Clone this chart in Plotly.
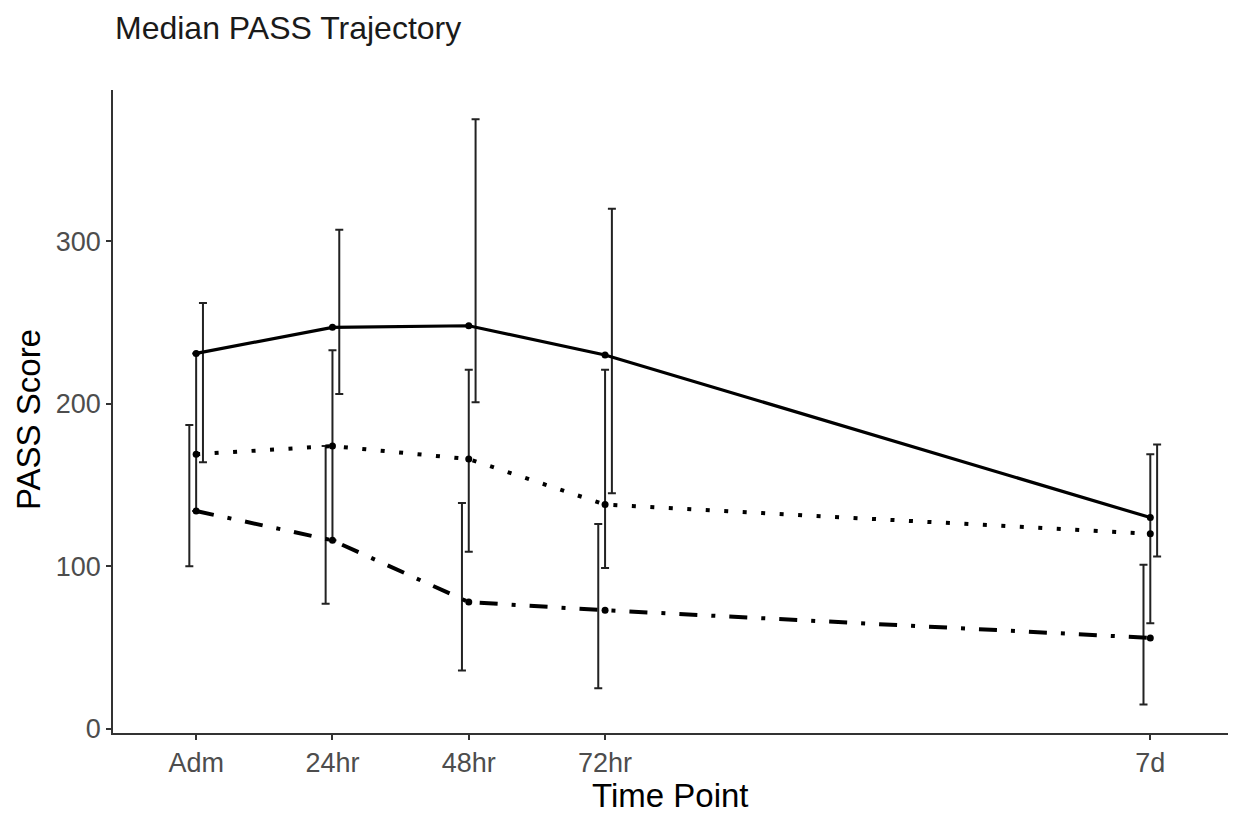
import plotly.graph_objects as go

# Data
time_labels = ["Adm", "24hr", "48hr", "72hr", "7d"]
time_days = [0, 1, 2, 3, 7]

solid_med = [231, 247, 248, 230, 130]
solid_lo = [164, 206, 201, 145, 106]
solid_hi = [262, 307, 375, 320, 175]

dotted_med = [169, 174, 166, 138, 120]
dotted_lo = [134, 116, 109, 99, 65]
dotted_hi = [231, 233, 221, 221, 169]

dashdot_med = [134, 116, 78, 73, 56]
dashdot_lo = [100, 77, 36, 25, 15]
dashdot_hi = [187, 174, 139, 126, 101]

y_ticks = [0, 100, 200, 300]

series = [
    ("solid", solid_med, solid_lo, solid_hi, "solid", 3.2, 0.05),
    ("dotted", dotted_med, dotted_lo, dotted_hi, "4px,14.5px", 4.0, 0.0),
    ("dashdot", dashdot_med, dashdot_lo, dashdot_hi, "18px,14px,4px,14px", 4.0, -0.05),
]

fig = go.Figure()

# error bars (dodged)
for name, med, lo, hi, dash, lw, off in series:
    fig.add_trace(go.Scatter(
        x=[d + off for d in time_days], y=med, mode="markers",
        marker=dict(size=1, color="rgba(0,0,0,0)"),
        error_y=dict(type="data", symmetric=False,
                     array=[h - m for h, m in zip(hi, med)],
                     arrayminus=[m - l for m, l in zip(med, lo)],
                     color="#222222", thickness=2, width=4),
        showlegend=False, hoverinfo="skip"))

# lines + points
for name, med, lo, hi, dash, lw, off in series:
    fig.add_trace(go.Scatter(
        x=time_days, y=med, mode="lines+markers", name=name,
        line=dict(color="black", width=lw, dash=dash),
        marker=dict(color="black", size=7),
        showlegend=False))

# page body has an 8px margin, so the figure is shifted by 8px; compensate
W, H = 1229, 807
fig.update_layout(
    width=W, height=H,
    paper_bgcolor="white", plot_bgcolor="white",
    margin=dict(l=105, r=9, t=82, b=82),
    font=dict(family="Liberation Sans, Arial, sans-serif", color="black"),
    title=dict(text="Median PASS Trajectory", x=107 / W, xref="container",
               xanchor="left", y=1 - 20 / H, yref="container", yanchor="middle",
               font=dict(size=32, color="#1a1a1a")),
    xaxis=dict(range=[-0.61, 7.57], tickvals=time_days, ticktext=time_labels,
               showgrid=False, zeroline=False, showline=True, linecolor="#333333",
               linewidth=1.6, ticks="outside", ticklen=5, tickwidth=1.5,
               tickcolor="#333333", tickfont=dict(size=27, color="#4d4d4d")),
    yaxis=dict(range=[-2.5, 393], tickvals=y_ticks,
               showgrid=False, zeroline=False, showline=True, linecolor="#333333",
               linewidth=1.6, ticks="outside", ticklen=5, tickwidth=1.5,
               tickcolor="#333333", tickfont=dict(size=27, color="#4d4d4d")),
    annotations=[
        dict(text="Time Point", xref="paper", yref="paper", x=0.5, y=-(795 - 733) / 643,
             xanchor="center", yanchor="middle", showarrow=False,
             font=dict(size=33, color="black")),
        dict(text="PASS Score", xref="paper", yref="paper", x=-(113 - 28) / 1115,
             y=(733 - 420) / 643, xanchor="center", yanchor="middle", textangle=-90,
             showarrow=False, font=dict(size=33, color="black")),
    ],
)

fig.write_html("out.html")
